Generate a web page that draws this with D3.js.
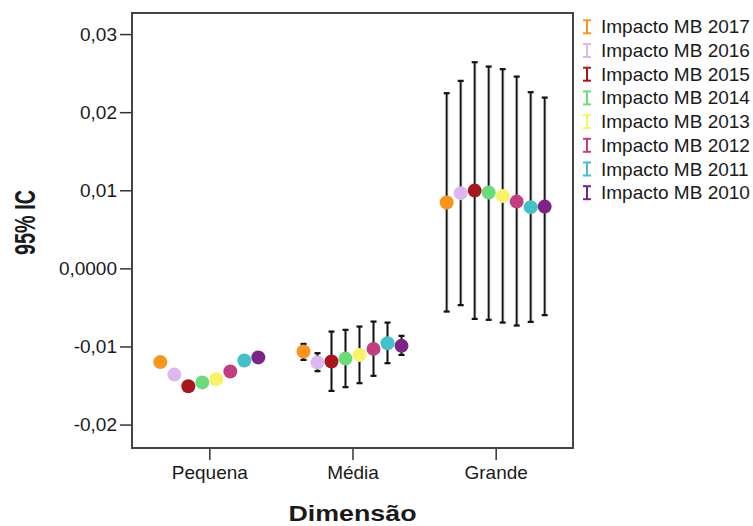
<!DOCTYPE html>
<html>
<head>
<meta charset="utf-8">
<script src="https://cdn.jsdelivr.net/npm/d3@7"></script>
<style>
  html, body { margin: 0; padding: 0; background: #fff; }
  svg { display: block; }
  text { font-family: "Liberation Sans", Arial, sans-serif; fill: #1a1a1a; }
</style>
</head>
<body>
<svg id="chart" width="753" height="526"></svg>
<script>
// Categories on the x axis
const categories = ["Pequena", "Média", "Grande"];

// Series (one per year), in drawing order inside each category
const seriesNames = ["Impacto MB 2017", "Impacto MB 2016", "Impacto MB 2015", "Impacto MB 2014",
                     "Impacto MB 2013", "Impacto MB 2012", "Impacto MB 2011", "Impacto MB 2010"];
const seriesColors = ["#f7961e", "#dcb8ee", "#a6171f", "#6bdc7c",
                      "#f8f26a", "#c13f80", "#44c0c6", "#7c2484"];

// Means and 95% confidence limits per category (series order as above)
const meanPequena = [-0.0120, -0.0136, -0.0151, -0.0146, -0.0142, -0.0132, -0.0118, -0.0114];
const lowPequena  = [-0.0124, -0.0140, -0.0155, -0.0150, -0.0146, -0.0136, -0.0122, -0.0118];
const highPequena = [-0.0116, -0.0132, -0.0147, -0.0142, -0.0138, -0.0128, -0.0114, -0.0110];

const meanMedia = [-0.01065, -0.01206, -0.01193, -0.01155, -0.01108, -0.01031, -0.00958, -0.00992];
const lowMedia  = [-0.01172, -0.01316, -0.01569, -0.01521, -0.01470, -0.01376, -0.01214, -0.01108];
const highMedia = [-0.00967, -0.01086, -0.00809, -0.00787, -0.00745, -0.00681, -0.00694, -0.00864];

const meanGrande = [0.00843, 0.00963, 0.00996, 0.00971, 0.00928, 0.00855, 0.00784, 0.00791];
const lowGrande  = [-0.00553, -0.00471, -0.00647, -0.00659, -0.00694, -0.00732, -0.00685, -0.00599];
const highGrande = [0.02243, 0.02401, 0.02640, 0.02584, 0.02551, 0.02456, 0.02256, 0.02187];

// Y axis ticks and their labels
const yTickValues = [0.03, 0.02, 0.01, 0, -0.01, -0.02];
const yTickLabels = ["0,03", "0,02", "0,01", "0,0000", "-0,01", "-0,02"];

const xTitle = "Dimensão";
const yTitle = "95% IC";

// Build rows for drawing
const byCategory = {
  "Pequena": [meanPequena, lowPequena, highPequena],
  "Média":   [meanMedia, lowMedia, highMedia],
  "Grande":  [meanGrande, lowGrande, highGrande]
};
const rows = [];
categories.forEach(c => {
  const [m, lo, hi] = byCategory[c];
  seriesNames.forEach((s, i) => rows.push({cat: c, series: s, idx: i, mean: m[i], low: lo[i], high: hi[i]}));
});

const svg = d3.select("#chart");
const plot = {left: 132, right: 573, top: 13, bottom: 448};

const x = d3.scalePoint().domain(categories).range([plot.left, plot.right]).padding(0.54);
const xInner = d3.scalePoint().domain(seriesNames).range([-56, 56]).padding(0.5);
const y = d3.scaleLinear().domain([-0.023, 0.0327]).range([plot.bottom, plot.top]);
const color = d3.scaleOrdinal().domain(seriesNames).range(seriesColors);

// Y axis
const yAxis = svg.append("g")
  .attr("transform", `translate(${plot.left},0)`)
  .call(d3.axisLeft(y).tickValues(yTickValues)
        .tickFormat((d, i) => yTickLabels[i]).tickSize(12).tickPadding(3));
yAxis.select(".domain").remove();
yAxis.selectAll(".tick line").attr("stroke", "#333").attr("stroke-width", 1.5);
yAxis.selectAll(".tick text").attr("font-size", 19).attr("fill", "#1a1a1a")
  .style("font-family", "'Liberation Sans', Arial, sans-serif");

// X axis
const xAxis = svg.append("g")
  .attr("transform", `translate(0,${plot.bottom})`)
  .call(d3.axisBottom(x).tickSize(12).tickPadding(6));
xAxis.select(".domain").remove();
xAxis.selectAll(".tick line").attr("stroke", "#333").attr("stroke-width", 1.5);
xAxis.selectAll(".tick text").attr("font-size", 19).attr("fill", "#1a1a1a")
  .style("font-family", "'Liberation Sans', Arial, sans-serif");

// Plot frame
svg.append("rect")
  .attr("x", plot.left).attr("y", plot.top)
  .attr("width", plot.right - plot.left).attr("height", plot.bottom - plot.top)
  .attr("fill", "none").attr("stroke", "#444").attr("stroke-width", 2);

// Error bars
const bars = svg.append("g");
const cx = d => x(d.cat) + xInner(d.series);
bars.selectAll("line.halo").data(rows).join("line")
  .attr("class", "halo")
  .attr("x1", cx).attr("x2", cx)
  .attr("y1", d => y(d.low)).attr("y2", d => y(d.high))
  .attr("stroke", "#9a9a9a").attr("stroke-width", 3);
bars.selectAll("line.whisker").data(rows).join("line")
  .attr("class", "whisker")
  .attr("x1", cx).attr("x2", cx)
  .attr("y1", d => y(d.low)).attr("y2", d => y(d.high))
  .attr("stroke", "#111").attr("stroke-width", 1.3);
["low", "high"].forEach(k => {
  bars.selectAll("line.cap-" + k).data(rows).join("line")
    .attr("class", "cap-" + k)
    .attr("x1", d => cx(d) - 3).attr("x2", d => cx(d) + 3)
    .attr("y1", d => y(d[k])).attr("y2", d => y(d[k]))
    .attr("stroke", "#111").attr("stroke-width", 2.2);
});

// Mean points
svg.append("g").selectAll("circle").data(rows).join("circle")
  .attr("cx", cx).attr("cy", d => y(d.mean)).attr("r", 7)
  .attr("fill", d => color(d.series));

// Axis titles
svg.append("text")
  .attr("x", x("Média")).attr("y", 521)
  .attr("text-anchor", "middle").attr("font-size", 22).attr("font-weight", "bold")
  .attr("textLength", 128).attr("lengthAdjust", "spacingAndGlyphs")
  .text(xTitle);
svg.append("text")
  .attr("transform", "translate(35,222.5) rotate(-90)")
  .attr("text-anchor", "middle").attr("font-size", 29).attr("font-weight", "bold")
  .attr("textLength", 65).attr("lengthAdjust", "spacingAndGlyphs")
  .text(yTitle);

// Legend
const legend = svg.append("g").attr("transform", "translate(587,33.3)");
const item = legend.selectAll("g").data(seriesNames).join("g")
  .attr("transform", (d, i) => `translate(0,${i * 23.7})`);
item.append("line").attr("x1", 0).attr("x2", 0).attr("y1", -13).attr("y2", 0)
  .attr("stroke", d => color(d)).attr("stroke-width", 2);
item.append("line").attr("x1", -4).attr("x2", 4).attr("y1", -13).attr("y2", -13)
  .attr("stroke", d => color(d)).attr("stroke-width", 2);
item.append("line").attr("x1", -4).attr("x2", 4).attr("y1", 0).attr("y2", 0)
  .attr("stroke", d => color(d)).attr("stroke-width", 2);
item.append("text").attr("x", 14).attr("y", 0)
  .attr("font-size", 19).text(d => d);
</script>
</body>
</html>
